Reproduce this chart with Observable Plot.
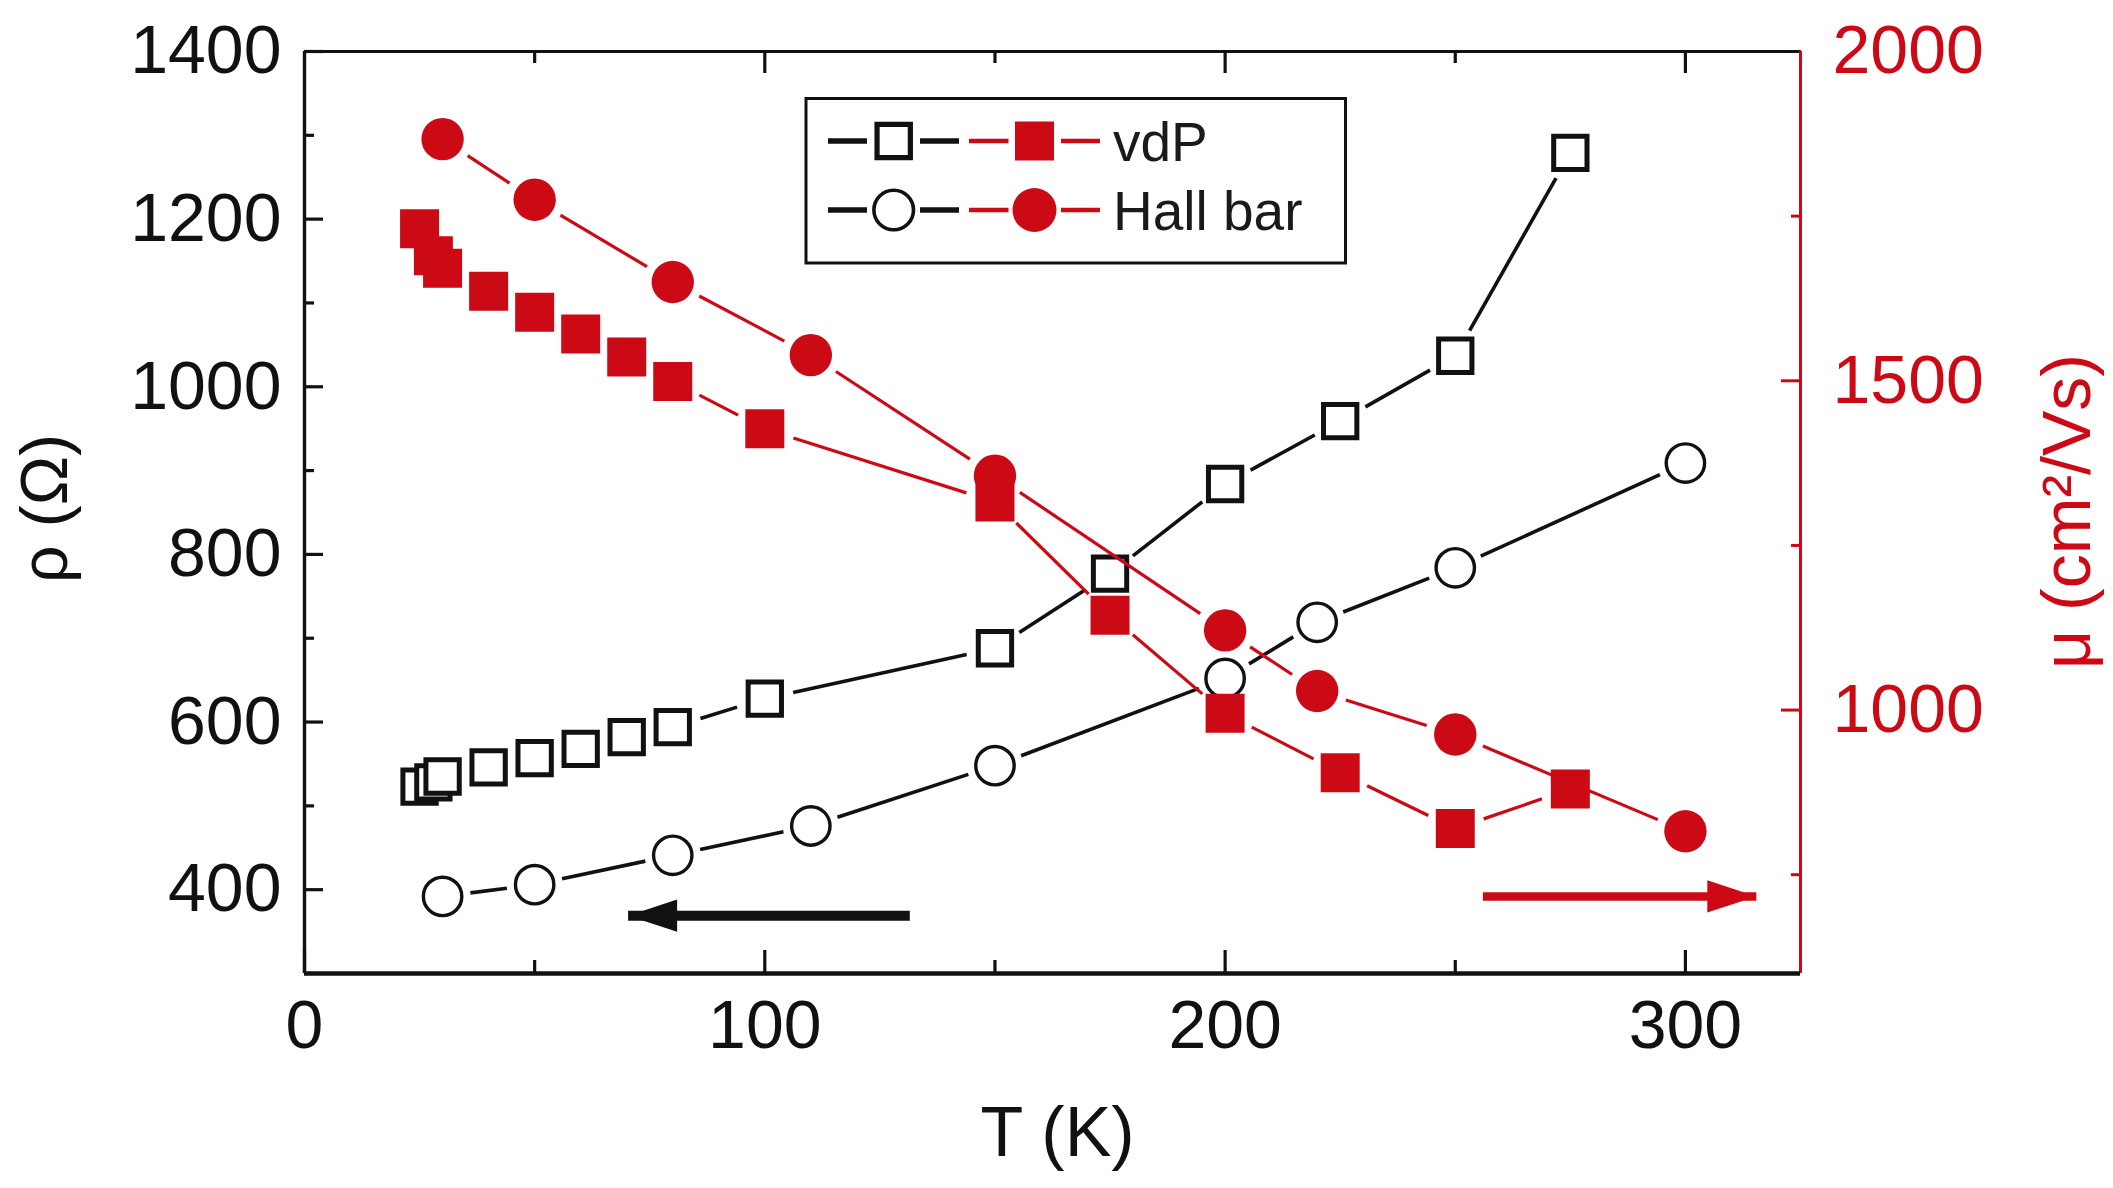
<!DOCTYPE html>
<html>
<head>
<meta charset="utf-8">
<script src="https://cdn.jsdelivr.net/npm/d3@7"></script>
<script src="https://cdn.jsdelivr.net/npm/@observablehq/plot@0.6"></script>
<style>
  html, body { margin: 0; padding: 0; background: #fff; }
  #chart { position: relative; width: 2113px; height: 1188px; overflow: hidden; }
</style>
</head>
<body>
<div id="chart"></div>
<script>
// ---------- data ----------
// vdP sample: resistivity rho (Ohm) and mobility mu (cm^2/Vs) vs temperature T (K)
const T_vdP   = [25, 28, 30, 40, 50, 60, 70, 80, 100, 150, 175, 200, 225, 250, 275];
const rho_vdP = [523, 528, 535, 546, 557, 568, 582, 594, 628, 688, 777, 884, 959, 1037, 1279];
const mu_vdP  = [1731, 1690, 1671, 1636, 1604, 1571, 1536, 1499, 1427, 1316, 1144, 995, 905, 820, 880];

// Hall bar sample
const T_hall   = [30, 50, 80, 110, 150, 200, 220, 250, 300];
const rho_hall = [392, 406, 441, 476, 548, 652, 719, 784, 909];
const mu_hall  = [1867, 1775, 1650, 1539, 1356, 1121, 1029, 963, 816];

// axis ticks
const rhoTicks      = [400, 600, 800, 1000, 1200, 1400];
const rhoMinorTicks = [500, 700, 900, 1100, 1300];
const muTicks       = [1000, 1500, 2000];
const muMinorTicks  = [750, 1250, 1750];
const tTicks        = [0, 100, 200, 300];
const tMinorTicks   = [50, 150, 250];

// axis domains
const tDomain   = [0, 325];
const rhoDomain = [300, 1400];
const muDomain  = [600, 2000];

// arrows pointing to the axis each family belongs to
const leftArrowT  = [131.5, 70.3];  const leftArrowRho = 369;
const rightArrowT = [256.0, 315.4]; const rightArrowMu = 717;

// legend
const legendLabels  = ["vdP", "Hall bar"];
const legendSymbols = ["square", "circle"];

// axis titles
const xTitle = "T (K)";
const yTitle = "ρ (Ω)";
const y2Title = "μ (cm²/Vs)";

// ---------- build ----------
const RED = "#cc0a15";
const INK = "#111111";
const FONT = "'Liberation Sans', Arial, Helvetica, sans-serif";

const muToRho = m => rhoDomain[0] + (m - muDomain[0]) * (rhoDomain[1] - rhoDomain[0]) / (muDomain[1] - muDomain[0]);
const rhoToMu = r => muDomain[0] + (r - rhoDomain[0]) * (muDomain[1] - muDomain[0]) / (rhoDomain[1] - rhoDomain[0]);

const vdP  = T_vdP.map((T, i) => ({T, rho: rho_vdP[i], mu: muToRho(mu_vdP[i])}));
const hall = T_hall.map((T, i) => ({T, rho: rho_hall[i], mu: muToRho(mu_hall[i])}));

const segs = (rows, key) => rows.slice(1).map((d, i) => ({x1: rows[i].T, y1: rows[i][key], x2: d.T, y2: d[key]}));

const gapLine = (rows, key, stroke, strokeWidth, inset) =>
  Plot.arrow(segs(rows, key), {
    x1: "x1", y1: "y1", x2: "x2", y2: "y2",
    stroke, strokeWidth, headLength: 0, inset, strokeLinecap: "butt"
  });

// filled arrowhead whose tip is at the symbol origin, pointing right
const arrowHead = {
  draw(ctx, size) {
    const r = Math.sqrt(size / Math.PI);
    const L = 2 * r, h = 0.66 * r;
    ctx.moveTo(0, 0);
    ctx.lineTo(-L, -h);
    ctx.lineTo(-L, h);
    ctx.closePath();
  }
};

const arrows = [
  {x1: leftArrowT[0], x2: leftArrowT[1], y: leftArrowRho, color: INK, w: 10, rot: 180},
  {x1: rightArrowT[0], x2: rightArrowT[1], y: muToRho(rightArrowMu), color: RED, w: 8.5, rot: 0}
];

const chart = Plot.plot({
  width: 2113,
  height: 1188,
  marginLeft: 304,
  marginRight: 313,
  marginTop: 51,
  marginBottom: 215,
  style: {fontFamily: FONT, background: "white", color: INK},
  x: {domain: tDomain},
  y: {domain: rhoDomain},
  marks: [
    // axes (inward ticks)
    Plot.axisY({anchor: "left", ticks: rhoTicks, tickFormat: d => String(d), tickSize: -19, tickPadding: 42, strokeWidth: 3.2, fontSize: 68, label: null}),
    Plot.axisY({anchor: "left", ticks: rhoMinorTicks, tickSize: -10, tickFormat: () => "", strokeWidth: 3.2, label: null}),
    Plot.axisY({anchor: "right", ticks: muTicks.map(muToRho), tickFormat: d => String(Math.round(rhoToMu(d))),
      tickSize: -20, tickPadding: 52, strokeWidth: 3, fontSize: 68, color: RED, label: null}),
    Plot.axisY({anchor: "right", ticks: muMinorTicks.map(muToRho), tickFormat: () => "", tickSize: -10, strokeWidth: 3, color: RED, label: null}),
    Plot.axisX({anchor: "bottom", ticks: tTicks, tickFormat: d => String(d), tickSize: -23, tickPadding: 49, strokeWidth: 3.2, fontSize: 68, label: null}),
    Plot.axisX({anchor: "bottom", ticks: tMinorTicks, tickSize: -13, tickFormat: () => "", strokeWidth: 3.2, label: null}),
    Plot.axisX({anchor: "top", ticks: tTicks.slice(1), tickSize: -21, tickFormat: () => "", strokeWidth: 3.2, label: null}),
    Plot.axisX({anchor: "top", ticks: tMinorTicks, tickSize: -11, tickFormat: () => "", strokeWidth: 3.2, label: null}),

    // frame
    Plot.ruleY([rhoDomain[1]], {stroke: INK, strokeWidth: 3.2}),
    Plot.ruleX([tDomain[0]], {stroke: INK, strokeWidth: 3.4}),
    Plot.ruleX([tDomain[1]], {stroke: RED, strokeWidth: 3}),
    Plot.ruleY([rhoDomain[0]], {stroke: INK, strokeWidth: 4.5}),

    // resistivity (black, left axis)
    gapLine(vdP, "rho", INK, 3.6, 29),
    gapLine(hall, "rho", INK, 3.6, 28),
    Plot.dot(vdP, {x: "T", y: "rho", symbol: "square", r: 18.8, fill: "white", stroke: INK, strokeWidth: 5}),
    Plot.dot(hall, {x: "T", y: "rho", symbol: "circle", r: 19.2, fill: "white", stroke: INK, strokeWidth: 3.4}),

    // mobility (red, right axis)
    gapLine(vdP, "mu", RED, 3.2, 30),
    gapLine(hall, "mu", RED, 3.2, 30),
    Plot.dot(vdP, {x: "T", y: "mu", symbol: "square", r: 22, fill: RED}),
    Plot.dot(hall, {x: "T", y: "mu", symbol: "circle", r: 21.2, fill: RED}),

    // axis-pointing arrows
    Plot.link(arrows, {x1: "x1", x2: "x2", y1: "y", y2: "y", stroke: "color", strokeWidth: "w", strokeLinecap: "butt"}),
    Plot.dot(arrows, {x: "x2", y: "y", symbol: arrowHead, r: 24.5, fill: "color", rotate: "rot"}),

    // axis titles
    Plot.text([yTitle], {text: d => d, frameAnchor: "left", textAnchor: "middle", lineAnchor: "middle", dx: -259, dy: -4, rotate: -90, fontSize: 66, fill: INK}),
    Plot.text([y2Title], {text: d => d, frameAnchor: "right", textAnchor: "middle", lineAnchor: "middle", dx: 268, dy: -1, rotate: -90, fontSize: 68, fill: RED}),
    Plot.text([xTitle], {text: d => d, frameAnchor: "bottom", textAnchor: "middle", lineAnchor: "middle", dx: 5, dy: 160, fontSize: 70, fill: INK})
  ]
});

document.getElementById("chart").appendChild(chart);

// ---------- legend (inside the plot frame, top centre) ----------
const svg = d3.select(chart);
const lg = svg.append("g").attr("class", "legend").style("font-family", FONT);
lg.append("rect")
  .attr("x", 806).attr("y", 98.5).attr("width", 539.5).attr("height", 164.5)
  .attr("fill", "white").attr("stroke", INK).attr("stroke-width", 3);

const rowY = [141, 210];
legendLabels.forEach((label, i) => {
  const y = rowY[i];
  const sym = legendSymbols[i];
  [[828, 867], [920, 959]].forEach(([a, b]) =>
    lg.append("line").attr("x1", a).attr("x2", b).attr("y1", y).attr("y2", y)
      .attr("stroke", INK).attr("stroke-width", 5.5));
  [[969, 1008.5], [1061, 1100]].forEach(([a, b]) =>
    lg.append("line").attr("x1", a).attr("x2", b).attr("y1", y).attr("y2", y)
      .attr("stroke", RED).attr("stroke-width", 4.5));
  const openR = sym === "square" ? 18.8 : 19.8;
  const fillR = 22;
  const type = sym === "square" ? d3.symbolSquare : d3.symbolCircle;
  lg.append("path")
    .attr("d", d3.symbol(type, openR * openR * Math.PI)())
    .attr("transform", `translate(893.7,${y})`)
    .attr("fill", "white").attr("stroke", INK).attr("stroke-width", sym === "square" ? 5.2 : 3.6);
  lg.append("path")
    .attr("d", d3.symbol(type, fillR * fillR * Math.PI)())
    .attr("transform", `translate(1034.5,${y})`)
    .attr("fill", RED);
  lg.append("text")
    .attr("x", 1113).attr("y", y + 20)
    .attr("text-anchor", "start")
    .attr("font-size", 55).attr("fill", "#1a1a1a")
    .text(label);
});
</script>
</body>
</html>
